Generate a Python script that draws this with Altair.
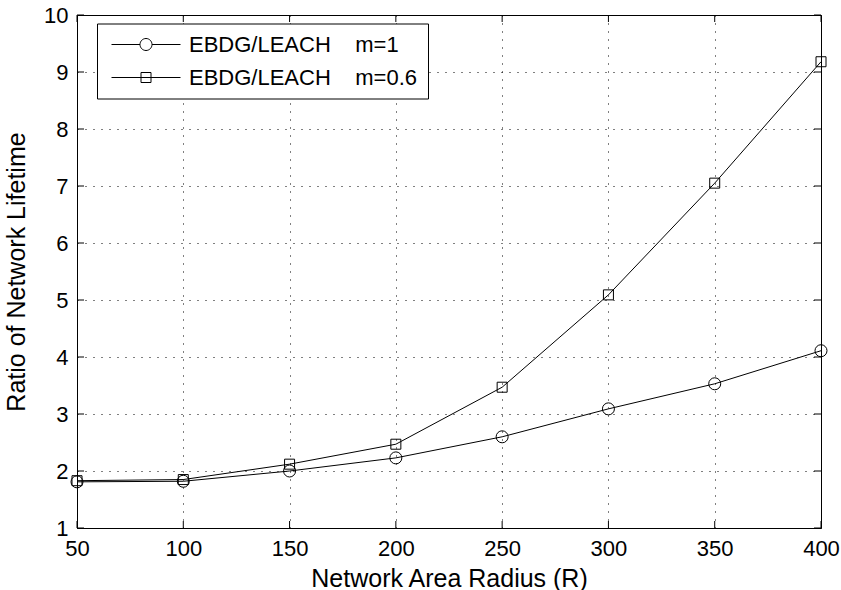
import altair as alt
import pandas as pd

# ---- data ----
radius = [50, 100, 150, 200, 250, 300, 350, 400]
ratio_m1 = [1.81, 1.82, 2.00, 2.23, 2.60, 3.09, 3.53, 4.11]
ratio_m06 = [1.83, 1.85, 2.12, 2.47, 3.47, 5.09, 7.05, 9.18]
NB = "\u00a0"
series = ["EBDG/LEACH" + NB * 4 + "m=1", "EBDG/LEACH" + NB * 4 + "m=0.6"]
x_ticks = [50, 100, 150, 200, 250, 300, 350, 400]
y_ticks = [1, 2, 3, 4, 5, 6, 7, 8, 9, 10]

rows = []
for s, vals in zip(series, [ratio_m1, ratio_m06]):
    for r, v in zip(radius, vals):
        rows.append({"radius": r, "ratio": v, "series": s})
df = pd.DataFrame(rows)
xt = pd.DataFrame({"radius": x_ticks})
yt = pd.DataFrame({"ratio": y_ticks})

W, H = 744, 513
FONT = "Liberation Sans"
TL = 7  # inner tick length

xs = alt.Scale(domain=[50, 400], nice=False, zero=False)
ys = alt.Scale(domain=[1, 10], nice=False, zero=False)

x_axis = alt.Axis(values=x_ticks, title="Network Area Radius (R)", grid=True,
                  gridColor="black", gridDash=[1, 7], gridOpacity=1, gridWidth=1,
                  ticks=False, tickSize=0, domain=False, labelFont=FONT, labelFontSize=22,
                  labelColor="black", labelPadding=10, labelFlush=False, labelOverlap=False,
                  titleFont=FONT, titleFontSize=25, titleFontWeight="normal",
                  titleColor="black", titlePadding=7, format="d")
y_axis = alt.Axis(values=y_ticks, title="Ratio of Network Lifetime", grid=True,
                  gridColor="black", gridDash=[1, 7], gridOpacity=1, gridWidth=1,
                  ticks=False, tickSize=0, domain=False, labelFont=FONT, labelFontSize=22,
                  labelColor="black", labelPadding=9, labelFlush=False, labelOverlap=False,
                  titleFont=FONT, titleFontSize=25, titleFontWeight="normal",
                  titleColor="black", titlePadding=14, format="d")

X = alt.X("radius:Q", scale=xs, axis=x_axis)
Y = alt.Y("ratio:Q", scale=ys, axis=y_axis)

lines = alt.Chart(df).mark_line(color="black", strokeWidth=1).encode(
    x=X, y=Y, detail="series:N")

points = alt.Chart(df).mark_point(filled=False, color="black", strokeWidth=1, opacity=1).encode(
    x=X, y=Y,
    shape=alt.Shape("series:N", scale=alt.Scale(domain=series, range=["circle", "square"]), legend=None),
    size=alt.Size("series:N", scale=alt.Scale(domain=series, range=[144, 100]), legend=None),
)

path_c = "M-3.45,0L-0.6,0M0.6,0L3.45,0M0.6,0A0.6,0.6,0,1,1,-0.6,0A0.6,0.6,0,1,1,0.6,0Z"
path_s = "M-3.45,0L3.45,0M-0.5,-0.5L0.5,-0.5L0.5,0.5L-0.5,0.5Z"

legend_layer = alt.Chart(df).mark_point(filled=False, color="black", opacity=0).encode(
    x=X, y=Y,
    shape=alt.Shape("series:N", scale=alt.Scale(domain=series, range=[path_c, path_s]),
                    legend=alt.Legend(orient="none", legendX=20, legendY=8.5, title=None,
                                      padding=10, fillColor="white", strokeColor="black",
                                      symbolSize=400, symbolStrokeColor="black",
                                      symbolStrokeWidth=1, symbolFillColor="transparent",
                                      symbolOpacity=1, symbolOffset=28, labelOffset=32,
                                      labelFont=FONT, labelFontSize=22, labelColor="black",
                                      rowPadding=11, labelLimit=400, cornerRadius=0)),
)

tick_bottom = alt.Chart(xt).mark_rule(color="black", strokeWidth=1).encode(
    x=alt.X("radius:Q", scale=xs), y=alt.value(H), y2=alt.value(H - TL))
tick_top = alt.Chart(xt).mark_rule(color="black", strokeWidth=1).encode(
    x=alt.X("radius:Q", scale=xs), y=alt.value(0), y2=alt.value(TL))
tick_left = alt.Chart(yt).mark_rule(color="black", strokeWidth=1).encode(
    y=alt.Y("ratio:Q", scale=ys), x=alt.value(0), x2=alt.value(TL))
tick_right = alt.Chart(yt).mark_rule(color="black", strokeWidth=1).encode(
    y=alt.Y("ratio:Q", scale=ys), x=alt.value(W), x2=alt.value(W - TL))

chart = alt.layer(
    lines, tick_bottom, tick_top, tick_left, tick_right, points, legend_layer
).resolve_scale(shape="independent").properties(
    width=W, height=H,
    autosize=alt.AutoSizeParams(type="none"),
    padding={"left": 77, "top": 15, "right": 20, "bottom": 62},
    background="white",
).configure_view(stroke="black", strokeWidth=1)

chart.save("out.html", embed_options={"renderer": "svg", "actions": False})
